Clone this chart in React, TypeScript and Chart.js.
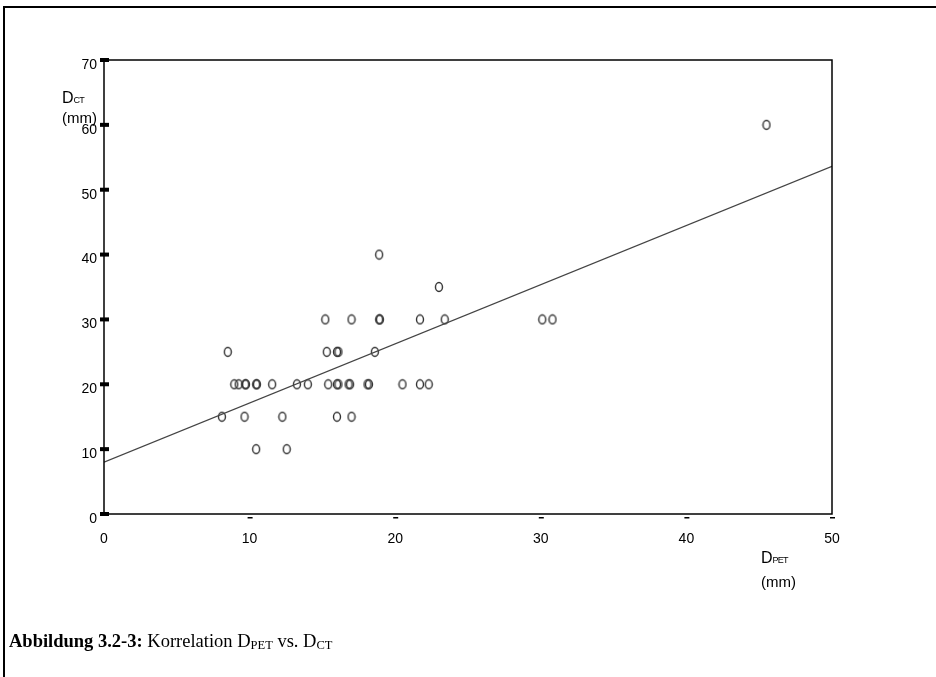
import React, { useEffect, useRef } from "react";
import { Chart, registerables } from "chart.js";

Chart.register(...registerables);

// D_PET (mm) values of the observations
const dPet = [
  45.5,
  18.9,
  23.0,
  15.2, 17.0, 18.9, 18.95, 21.7, 23.4, 30.1, 30.8,
  8.5, 15.3, 16.0, 16.1, 18.6,
  8.95, 9.25, 9.7, 9.75, 10.45, 10.5, 11.55, 13.25, 14.0, 15.4, 16.0, 16.1, 16.8, 16.9, 18.1, 18.2, 20.5, 21.7, 22.3,
  8.1, 9.65, 12.25, 16.0, 17.0,
  10.45, 12.55,
];
// D_CT (mm) values of the observations
const dCt = [
  60,
  40,
  35,
  30, 30, 30, 30, 30, 30, 30, 30,
  25, 25, 25, 25, 25,
  20, 20, 20, 20, 20, 20, 20, 20, 20, 20, 20, 20, 20, 20, 20, 20, 20, 20, 20,
  15, 15, 15, 15, 15,
  10, 10,
];
// regression line end points
const fitX = [0, 50];
const fitY = [8.0, 53.6];

const xTickValues = [0, 10, 20, 30, 40, 50];
const yTickValues = [0, 10, 20, 30, 40, 50, 60, 70];

function makeMarker(): HTMLCanvasElement {
  const c = document.createElement("canvas");
  c.width = 10;
  c.height = 12;
  const g = c.getContext("2d")!;
  g.strokeStyle = "#333";
  g.lineWidth = 1.4;
  g.beginPath();
  g.ellipse(5, 6, 3.5, 4.5, 0, 0, Math.PI * 2);
  g.stroke();
  return c;
}

const framePlugin = {
  id: "framePlugin",
  afterDraw(chart: any) {
    const { ctx, chartArea } = chart;
    const xs = chart.scales.x;
    const ys = chart.scales.y;
    ctx.save();
    ctx.strokeStyle = "#000";
    ctx.lineWidth = 1.5;
    ctx.strokeRect(chartArea.left, chartArea.top, chartArea.right - chartArea.left, chartArea.bottom - chartArea.top);
    ctx.fillStyle = "#000";
    yTickValues.forEach((v) => {
      const y = ys.getPixelForValue(v);
      ctx.fillRect(chartArea.left - 4, y - 2, 9, 4);
    });
    xTickValues.forEach((v) => {
      if (v === 0) return;
      const x = xs.getPixelForValue(v);
      ctx.fillRect(x - 2, chartArea.bottom + 3, 5, 1.5);
    });
    ctx.restore();
  },
};

export default function App() {
  const ref = useRef<HTMLCanvasElement | null>(null);

  useEffect(() => {
    if (!ref.current) return;
    const marker = makeMarker();
    const points = dPet.map((x, i) => ({ x, y: dCt[i] }));
    const fit = fitX.map((x, i) => ({ x, y: fitY[i] }));
    const chart = new Chart(ref.current, {
      type: "scatter",
      data: {
        datasets: [
          {
            type: "line",
            data: fit,
            borderColor: "#444",
            borderWidth: 1.3,
            pointRadius: 0,
            fill: false,
          } as any,
          {
            type: "scatter",
            data: points,
            pointStyle: marker as any,
            borderColor: "#333",
            backgroundColor: "rgba(0,0,0,0)",
          } as any,
        ],
      },
      options: {
        animation: false,
        responsive: false,
        devicePixelRatio: 1,
        layout: { padding: { left: 0, top: 60, right: 104, bottom: 123 } },
        plugins: { legend: { display: false }, tooltip: { enabled: false } },
        scales: {
          x: {
            type: "linear",
            min: 0,
            max: 50,
            afterFit: (s: any) => {
              s.height = 40;
            },
            afterBuildTicks: (s: any) => {
              s.ticks = xTickValues.map((v) => ({ value: v }));
            },
            grid: { display: false, drawTicks: false },
            border: { display: false },
            ticks: {
              color: "#000",
              padding: 17,
              font: { family: "'Liberation Sans', Arial, sans-serif", size: 14 },
              maxRotation: 0,
            },
          },
          y: {
            type: "linear",
            min: 0,
            max: 70,
            afterFit: (s: any) => {
              s.width = 104;
            },
            afterBuildTicks: (s: any) => {
              s.ticks = yTickValues.map((v) => ({ value: v }));
            },
            grid: { display: false, drawTicks: false },
            border: { display: false },
            ticks: {
              color: "#000",
              padding: 7,
              labelOffset: 5,
              font: { family: "'Liberation Sans', Arial, sans-serif", size: 14 },
            },
          },
        },
      },
      plugins: [framePlugin],
    });
    return () => chart.destroy();
  }, []);

  const sans = "'Liberation Sans', Arial, sans-serif";
  const serif = "'Liberation Serif', 'Times New Roman', serif";

  return (
    <div style={{ position: "fixed", left: 0, top: 0, width: 936, height: 677, background: "#fff", overflow: "hidden" }}>
      <div style={{ position: "absolute", left: 3, top: 6, width: 933, height: 2, background: "#000" }} />
      <div style={{ position: "absolute", left: 3, top: 6, width: 2, height: 671, background: "#000" }} />
      <canvas ref={ref} width={936} height={677} style={{ position: "absolute", left: 0, top: 0, width: 936, height: 677 }} />
      <div style={{ position: "absolute", left: 62, top: 89, fontFamily: sans, fontSize: 15, lineHeight: "18px", color: "#000" }}>
        <div>
          <span style={{ fontSize: 16 }}>D</span>
          <span style={{ fontSize: 9, letterSpacing: -0.8 }}>CT</span>
        </div>
        <div>(mm)</div>
      </div>
      <div style={{ position: "absolute", left: 761, top: 547, fontFamily: sans, fontSize: 15, lineHeight: "22px", color: "#000" }}>
        <div>
          <span style={{ fontSize: 16 }}>D</span>
          <span style={{ fontSize: 9, letterSpacing: -0.8 }}>PET</span>
        </div>
        <div>(mm)</div>
      </div>
      <div style={{ position: "absolute", left: 9, top: 630, fontFamily: serif, fontSize: 18.5, lineHeight: "22px", color: "#000", whiteSpace: "nowrap" }}>
        <b>Abbildung 3.2-3:</b> Korrelation D<span style={{ fontSize: 12.5, verticalAlign: -2 }}>PET</span> vs. D<span style={{ fontSize: 12.5, verticalAlign: -2 }}>CT</span>
      </div>
    </div>
  );
}
